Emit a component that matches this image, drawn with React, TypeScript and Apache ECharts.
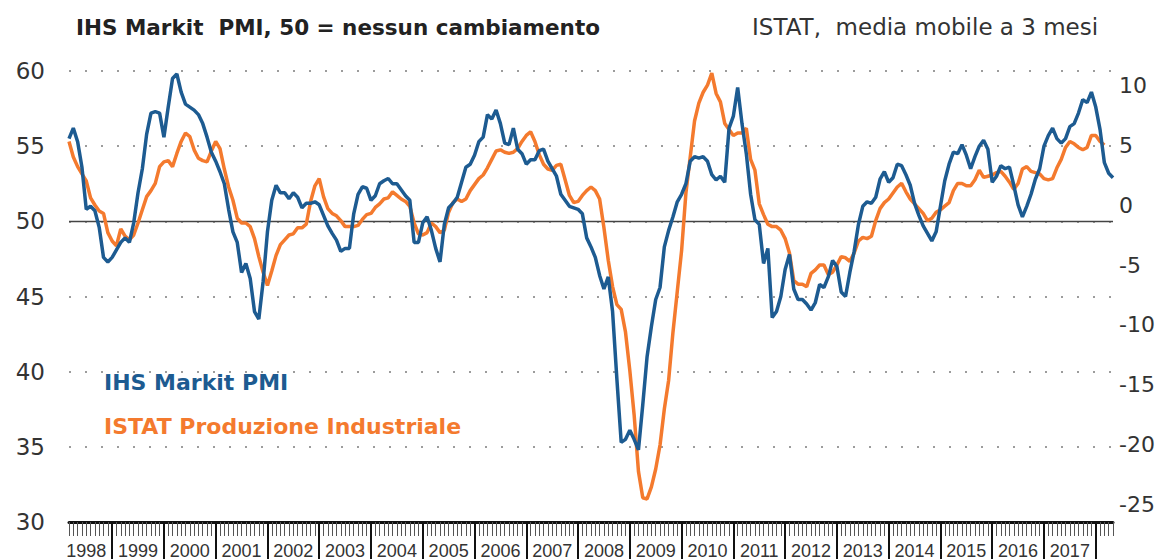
import React, { useEffect, useRef } from "react";
import * as echarts from "echarts";

// Monthly categories, March 1998 .. May 2018
const START_YEAR = 1998;
const START_MONTH = 3;
const MONTH_COUNT = 243;
const months: string[] = [];
for (let k = 0; k < MONTH_COUNT; k++) {
  const m0 = START_MONTH - 1 + k;
  const y = START_YEAR + Math.floor(m0 / 12);
  const m = (m0 % 12) + 1;
  months.push(`${y}-${m < 10 ? "0" + m : m}`);
}

// IHS Markit PMI (left axis)
const pmi: number[] = [
  55.5, 56.2, 55.3, 53.6, 50.8, 51.0, 50.7, 49.6, 47.6, 47.3,
  47.6, 48.1, 48.6, 48.9, 48.6, 49.9, 51.9, 53.5, 55.8, 57.2,
  57.3, 57.2, 55.6, 57.6, 59.5, 59.8, 58.6, 57.8, 57.6, 57.4,
  57.1, 56.5, 55.6, 54.6, 54.0, 53.3, 52.5, 50.8, 49.3, 48.6,
  46.6, 47.2, 46.2, 44.0, 43.5, 46.0, 49.3, 51.4, 52.4, 51.9,
  51.9, 51.5, 51.9, 51.6, 50.9, 51.2, 51.2, 51.3, 51.1, 50.4,
  49.7, 49.2, 48.75, 48.0, 48.2, 48.2, 50.5, 51.8, 52.3, 52.2,
  51.4, 51.7, 52.5, 52.7, 52.85, 52.5, 52.5, 52.1, 51.7, 51.4,
  48.6, 48.6, 49.9, 50.3, 49.4, 48.2, 47.3, 49.8, 50.9, 51.2,
  51.6, 52.6, 53.6, 53.8, 54.4, 55.3, 55.6, 57.1, 56.8, 57.4,
  56.5, 55.2, 55.1, 56.2, 54.8, 54.5, 53.8, 54.1, 54.1, 54.7,
  54.8, 54.0, 53.5, 53.0, 51.8, 51.4, 51.0, 50.9, 50.8, 50.5,
  48.9, 48.3, 47.6, 46.4, 45.5, 46.3, 44.0, 39.5, 35.3, 35.5,
  36.1, 35.5, 34.8, 37.8, 41.0, 43.0, 44.8, 45.6, 48.3, 49.4,
  50.3, 51.3, 51.8, 52.5, 54.0, 54.3, 54.2, 54.3, 54.0, 53.1,
  52.75, 53.0, 52.6, 56.2, 57.0, 58.9, 56.5, 54.5, 51.8, 50.1,
  49.8, 47.2, 48.2, 43.6, 44.0, 45.0, 46.8, 47.8, 45.5, 44.8,
  44.8, 44.5, 44.1, 44.6, 45.8, 45.6, 46.3, 47.4, 47.0, 45.3,
  45.0, 46.6, 48.0, 49.8, 51.0, 51.3, 51.2, 51.6, 52.8, 53.3,
  52.6, 52.9, 53.8, 53.7, 53.1, 52.4, 51.2, 50.4, 49.7, 49.2,
  48.7, 49.3, 51.0, 52.7, 53.8, 54.6, 54.5, 55.1, 54.4, 53.5,
  54.3, 55.0, 55.4, 54.8, 52.6, 53.0, 53.7, 53.5, 53.6, 52.4,
  51.1, 50.3, 51.0, 51.8, 52.8, 53.5, 55.0, 55.7, 56.2, 55.5,
  55.2, 55.5, 56.3, 56.5, 57.2, 58.1, 57.9, 58.6, 57.6, 56.1,
  53.9, 53.2, 52.9,
];

// ISTAT industrial production, 3-month moving average, % y/y (right axis)
const istat: number[] = [
  5.3, 4.0, 3.2, 2.6, 2.0, 0.6, 0.0, -0.5, -0.7, -2.3,
  -3.0, -3.4, -2.0, -2.6, -2.9, -2.5, -1.5, -0.4, 0.7, 1.2,
  1.8, 3.2, 3.6, 3.7, 3.2, 4.3, 5.3, 6.0, 5.7, 4.6,
  3.9, 3.7, 3.6, 4.5, 5.3, 4.7, 3.0, 1.5, 0.4, -1.1,
  -1.5, -1.5, -1.8, -2.8, -4.3, -5.6, -6.7, -5.5, -4.2, -3.3,
  -2.9, -2.5, -2.4, -1.9, -1.9, -1.6, 0.3, 1.6, 2.2, 0.7,
  -0.3, -0.7, -0.9, -1.3, -1.8, -1.8, -1.8, -1.7, -1.2, -0.8,
  -0.7, -0.2, 0.1, 0.5, 0.6, 1.1, 0.8, 0.5, 0.3, -0.1,
  -1.5, -2.4, -2.5, -2.3, -1.5, -1.8, -2.3, -2.1, -0.6, 0.2,
  0.5, 0.3, 0.5, 1.2, 1.7, 2.2, 2.5, 3.1, 3.8, 4.5,
  4.6, 4.4, 4.3, 4.4, 4.7, 5.3, 5.8, 6.1, 5.3, 4.2,
  3.4, 3.0, 2.9, 3.3, 3.4, 2.1, 0.8, 0.2, 0.3, 0.8,
  1.2, 1.5, 1.2, 0.5, -1.9, -4.6, -6.8, -8.3, -8.7, -10.6,
  -13.8, -17.5, -22.2, -24.4, -24.5, -23.5, -22.0, -20.0, -17.0, -14.6,
  -10.6, -7.2, -3.8, 1.0, 4.0, 7.0, 8.5, 9.4, 10.0, 11.0,
  9.3, 8.6, 6.8, 6.3, 5.8, 6.0, 6.0, 6.4, 3.8, 2.9,
  0.1, -0.8, -1.6, -1.8, -1.8, -2.1, -2.8, -4.0, -6.3, -6.6,
  -6.6, -6.8, -5.7, -5.4, -5.0, -5.0, -5.8, -5.6, -5.0, -4.3,
  -4.4, -4.7, -4.0, -3.0, -2.7, -2.8, -2.6, -1.3, -0.3, 0.2,
  0.5, 1.0, 1.5, 1.8, 1.1, 0.5, 0.1, -0.3, -0.7, -1.3,
  -1.1, -0.6, -0.4, -0.1, 0.2, 1.2, 1.8, 1.8, 1.6, 1.6,
  2.1, 2.9, 2.3, 2.4, 2.5, 2.7, 2.8, 2.4, 1.9, 1.3,
  1.8, 3.0, 3.2, 2.8, 2.7, 2.6, 2.2, 2.1, 2.2, 3.1,
  3.8, 4.8, 5.3, 5.1, 4.8, 4.6, 4.8, 5.8, 5.8, 5.3,
  5.0,
];

const leftTicks = [30, 35, 40, 45, 50, 55, 60];
const rightTicks = [-25, -20, -15, -10, -5, 0, 5, 10];
const RIGHT_MIN = -26.42;
const RIGHT_MAX = 11.17;

const titleLeft = "IHS Markit  PMI, 50 = nessun cambiamento";
const titleRight = "ISTAT,  media mobile a 3 mesi";
const pmiName = "IHS Markit PMI";
const istatName = "ISTAT Produzione Industriale";

const BLUE = "#1d5b91";
const ORANGE = "#f47a2e";
const FONT = "'DejaVu Sans', 'Liberation Sans', Arial, sans-serif";

export default function App() {
  const ref = useRef<HTMLDivElement>(null);

  useEffect(() => {
    if (!ref.current) return;
    const chart = echarts.init(ref.current, undefined, { renderer: "svg" });
    const option: any = {
      animation: false,
      backgroundColor: "#ffffff",
      textStyle: { fontFamily: FONT },
      title: [
        {
          text: titleLeft,
          left: 76,
          top: 14,
          padding: 0,
          textStyle: { fontFamily: FONT, fontSize: 21.5, fontWeight: "bold", color: "#222", lineHeight: 26 },
        },
        {
          text: titleRight,
          left: 752,
          top: 14,
          padding: 0,
          textStyle: { fontFamily: FONT, fontSize: 23, fontWeight: "normal", color: "#333", lineHeight: 26 },
        },
      ],
      legend: {
        orient: "vertical",
        left: 93,
        top: 364,
        itemWidth: 0,
        itemHeight: 0,
        itemGap: 18,
        selectedMode: false,
        textStyle: { fontFamily: FONT, fontSize: 22, fontWeight: "bold", lineHeight: 26 },
        data: [
          { name: pmiName, textStyle: { color: BLUE } },
          { name: istatName, textStyle: { color: ORANGE } },
        ],
      },
      grid: {
        left: 69,
        right: 53,
        top: 71,
        bottom: 38,
        outerBoundsMode: "none",
      },
      xAxis: [
        {
          type: "category",
          data: months,
          boundaryGap: false,
          position: "bottom",
          axisLine: { show: true, onZero: false, lineStyle: { color: "#111", width: 3 } },
          axisTick: { show: true, interval: 0, length: 14, lineStyle: { color: "#555", width: 1 } },
          axisLabel: {
            interval: (_i: number, v: string) => v.endsWith("-07"),
            formatter: (v: string) => v.slice(0, 4),
            fontFamily: "'Liberation Sans', Arial, sans-serif",
            fontSize: 18,
            color: "#333",
            margin: 20,
          },
          splitLine: { show: false },
        },
        {
          type: "category",
          data: months,
          boundaryGap: false,
          position: "bottom",
          axisLine: { show: false, onZero: false },
          axisTick: {
            show: true,
            interval: (_i: number, v: string) => v.endsWith("-01"),
            length: 37,
            lineStyle: { color: "#111", width: 2 },
          },
          axisLabel: { show: false },
          splitLine: { show: false },
        },
      ],
      yAxis: [
        {
          type: "value",
          position: "left",
          min: leftTicks[0],
          max: leftTicks[leftTicks.length - 1],
          interval: 5,
          axisLine: { show: false },
          axisTick: { show: false },
          axisLabel: {
            fontFamily: FONT,
            fontSize: 23,
            color: "#333",
            margin: 24,
            padding: [8, 0, 0, 0],
          },
          splitLine: {
            show: true,
            lineStyle: { color: "#9c9c9c", width: 2, type: [2, 14] },
          },
        },
        {
          type: "value",
          position: "right",
          min: RIGHT_MIN,
          max: RIGHT_MAX,
          axisLine: { show: false },
          axisTick: { show: false, customValues: rightTicks },
          axisLabel: {
            customValues: rightTicks,
            fontFamily: FONT,
            fontSize: 22,
            color: "#333",
            margin: 6,
          },
          splitLine: { show: false },
        },
      ],
      series: [
        {
          name: istatName,
          type: "line",
          xAxisIndex: 0,
          yAxisIndex: 1,
          data: istat,
          showSymbol: false,
          symbol: "none",
          lineStyle: { color: ORANGE, width: 3.5 },
          itemStyle: { color: ORANGE },
          z: 3,
        },
        {
          name: pmiName,
          type: "line",
          xAxisIndex: 0,
          yAxisIndex: 0,
          data: pmi,
          showSymbol: false,
          symbol: "none",
          lineStyle: { color: BLUE, width: 3.5 },
          itemStyle: { color: BLUE },
          z: 4,
          markLine: {
            silent: true,
            symbol: ["none", "none"],
            label: { show: false },
            lineStyle: { color: "#444", width: 1.3, type: "solid" },
            data: [{ yAxis: 50 }],
            z: 2,
          },
        },
      ],
    };
    chart.setOption(option);
    return () => {
      chart.dispose();
    };
  }, []);

  return (
    <div
      ref={ref}
      style={{ position: "fixed", left: 0, top: 0, width: 1166, height: 560, background: "#fff" }}
    />
  );
}
